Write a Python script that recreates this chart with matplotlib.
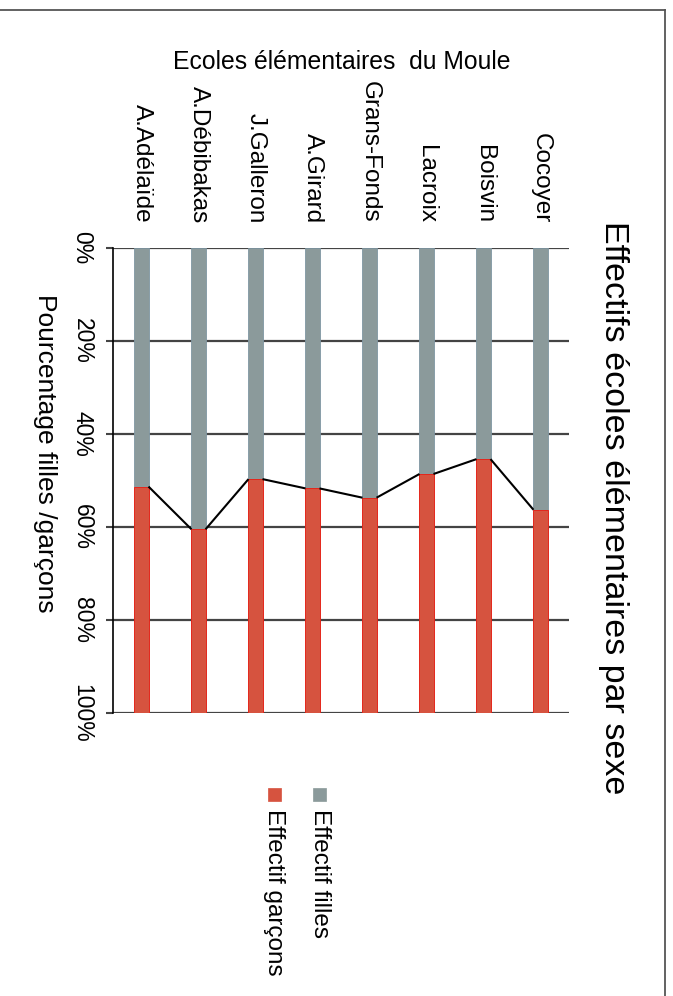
import matplotlib
matplotlib.use("Agg")
import matplotlib.pyplot as plt
from matplotlib.patches import Rectangle
from matplotlib.lines import Line2D

plt.rcParams['font.family'] = ['Liberation Sans', 'DejaVu Sans']

# ---- data -------------------------------------------------------------
ecoles = ["A.Adélaïde", "A.Débibakas", "J.Galleron", "A.Girard",
          "Grans-Fonds", "Lacroix", "Boisvin", "Cocoyer"]
filles_pct = [51.3, 60.5, 49.7, 51.7, 53.7, 48.6, 45.4, 56.3]
garcons_pct = [48.7, 39.5, 50.3, 48.3, 46.3, 51.4, 54.6, 43.7]
ticks_pct = [0, 20, 40, 60, 80, 100]
tick_labels = ["0%", "20%", "40%", "60%", "80%", "100%"]

# ---- figure -----------------------------------------------------------
W, H = 673, 996
fig = plt.figure(figsize=(W / 100, H / 100), dpi=100)
fig.patch.set_facecolor("white")


def fx(px):
    return px / W


def fy(py):
    return 1 - py / H


# plot area (page laid out sideways)
left, right, top, bottom = 113, 569, 248, 713
ax = fig.add_axes([fx(left), fy(bottom), (right - left) / W, (bottom - top) / H])

grey = "#8b9a9b"
red = "#d6533f"
bar_w = 0.246
x = list(range(len(ecoles)))

ax.bar(x, filles_pct, width=bar_w, color=grey, edgecolor="#7f97a3",
       linewidth=0.6, zorder=3)
ax.bar(x, garcons_pct, width=bar_w, bottom=filles_pct, color=red,
       edgecolor="#e4261b", linewidth=0.7, zorder=3)

# series lines joining the boundary between the two stacks
for i in range(len(x) - 1):
    ax.plot([x[i] + bar_w / 2, x[i + 1] - bar_w / 2],
            [filles_pct[i], filles_pct[i + 1]],
            color="black", lw=1.5, zorder=4, solid_capstyle="butt")

ax.set_xlim(-0.5, len(x) - 0.5)
ax.set_ylim(100, 0)

# value axis
ax.set_yticks(ticks_pct)
ax.set_yticklabels(tick_labels, rotation=-90, fontsize=16.5,
                   va="center", ha="right")
ax.tick_params(axis="y", length=5, width=1.5, color="#444444", pad=9,
               direction="out")
ax.yaxis.grid(True, color="#444444", lw=1.6, zorder=1)

# category axis on top
ax.xaxis.tick_top()
ax.set_xticks(x)
ax.set_xticklabels(ecoles, rotation=-90, fontsize=17.5, va="bottom",
                   ha="center")
ax.tick_params(axis="x", length=0, pad=18)

for s in ["top", "right", "bottom"]:
    ax.spines[s].set_visible(False)
ax.spines["left"].set_color("black")
ax.spines["left"].set_linewidth(1.2)
ax.spines["left"].set_zorder(5)
ax.set_axisbelow(True)

# texts
fig.text(fx(613), fy(508), "Effectifs écoles élémentaires par sexe",
         rotation=-90, fontsize=24.5, ha="center", va="center")
fig.text(fx(342), fy(69), "Ecoles élémentaires  du Moule",
         fontsize=17.8, ha="center", va="baseline")
fig.text(fx(45), fy(453), "Pourcentage filles /garçons",
         rotation=-90, fontsize=19, ha="center", va="center")

# legend
for cx, col, lab in [(319.5, grey, "Effectif filles"),
                     (274, red, "Effectif garçons")]:
    fig.patches.append(Rectangle((fx(cx - 6.5), fy(801)), 13 / W, 13 / H,
                                 transform=fig.transFigure, facecolor=col,
                                 edgecolor=col, lw=0.5))
    fig.text(fx(cx), fy(809), lab, rotation=-90, fontsize=17.5,
             ha="center", va="top")

# page frame
fig.add_artist(Line2D([0, fx(665)], [fy(10), fy(10)], color="#555555",
                      lw=1.3, transform=fig.transFigure))
fig.add_artist(Line2D([fx(665), fx(665)], [fy(10), 0], color="#555555",
                      lw=1.3, transform=fig.transFigure))

fig.savefig("out.png", dpi=100)
